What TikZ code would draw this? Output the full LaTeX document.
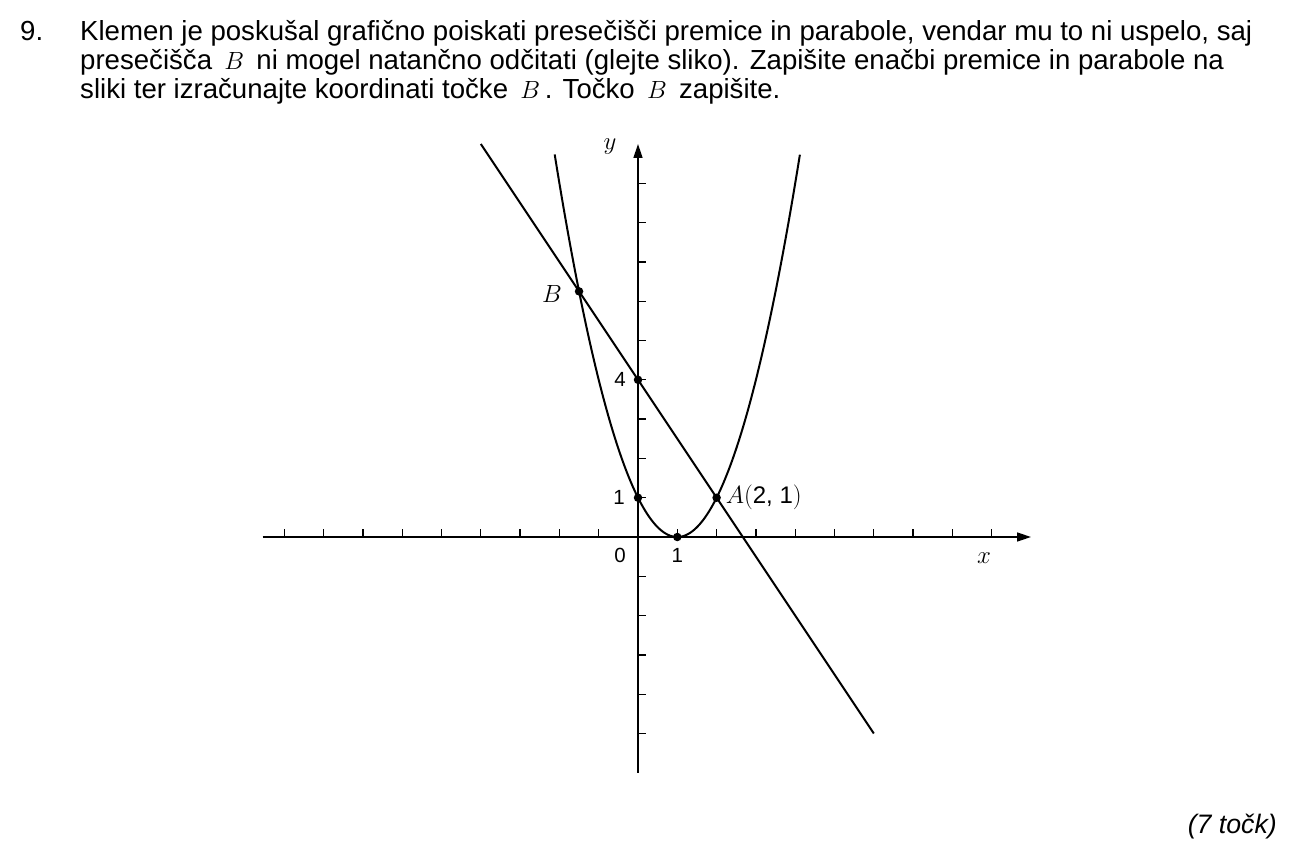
\documentclass[tikz,border=0pt]{standalone}
\usepackage{fontspec}
\setmainfont{Liberation Sans}
\usetikzlibrary{arrows.meta}
\begin{document}
\begin{tikzpicture}[x=1pt,y=-1pt,
  hdr/.style={anchor=base west, inner sep=0pt, font=\fontsize{27.6}{32}\selectfont},
  axis/.style={line width=1.5pt, -{Triangle[length=14pt,width=9pt]}},
  tick/.style={line width=1.3pt},
  curve/.style={line width=2pt},
  dot/.style={circle, fill=black, inner sep=0pt, minimum size=8.5pt},
  lbl/.style={inner sep=0pt, font=\fontsize{20.5}{24}\selectfont},
  mlbl/.style={inner sep=0pt, font=\fontsize{26}{30}\selectfont}]
\useasboundingbox (0,0) rectangle (1297,861);
\fill[white] (0,0) rectangle (1297,861);
% header
\node[hdr] (num) at (20,41) {9.};
\node[hdr] (l1) at (80,41) {Klemen je poskušal grafično poiskati presečišči premice in parabole, vendar mu to ni uspelo, saj};
\node[hdr] (l2) at (80,70) {presečišča \,$B$\, ni mogel natančno odčitati (glejte sliko). Zapišite enačbi premice in parabole na};
\node[hdr] (l3) at (80,99) {sliki ter izračunajte koordinati točke \,$B$\,. Točko \,$B$\, zapišite.};
\node[anchor=base east, inner sep=0pt, font=\fontsize{26.7}{30}\selectfont\itshape] (pts) at (1277,833) {(7 točk)};
% graph
\begin{scope}[shift={(638pt,-537pt)}, x=39.3pt, y=39.3pt]
  \coordinate (xl) at (-9.55,0);
  \coordinate (xr) at (10,0);
  \coordinate (yb) at (0,-6);
  \coordinate (yt) at (0,10);
  \draw[axis] (xl) -- (xr);
  \draw[axis] (yb) -- (yt);
  \foreach \i in {-9,...,-1,1,2,...,9} \draw[tick] (\i,0) -- ++(0,8pt);
  \foreach \j in {-5,...,-1,1,2,...,9} \draw[tick] (0,\j) -- ++(8pt,0);
  \draw[curve, domain=-2.12:4.12, samples=120, smooth] plot (\x, {(\x-1)^2});
  \coordinate (ls) at (-4,10);
  \coordinate (le) at (6,-5);
  \draw[curve] (ls) -- (le);
  \node[dot] (A) at (2,1) {};
  \node[dot] (B) at (-1.5,6.25) {};
  \node[dot] (P4) at (0,4) {};
  \node[dot] (P1) at (0,1) {};
  \node[dot] (V) at (1,0) {};
  \node[mlbl] (Bl) at ([shift={(-27pt,-3pt)}]B) {$B$};
  \node[lbl] (l4) at ([shift={(-18pt,0pt)}]P4) {4};
  \node[lbl] (l1a) at ([shift={(-19pt,0pt)}]P1) {1};
  \node[lbl] (l0) at ([shift={(-18pt,-18pt)}]0,0) {0};
  \node[lbl] (l1b) at ([shift={(0pt,-18pt)}]V) {1};
  \node[anchor=base west, inner sep=0pt, font=\fontsize{24}{28}\selectfont] (Al) at ([shift={(9pt,-6pt)}]A) {$A($2, 1$)$};
  \node[mlbl] (xlab) at ([shift={(346pt,-21pt)}]0,0) {$x$};
  \node[mlbl] (ylab) at ([shift={(-28pt,390pt)}]0,0) {$y$};
\end{scope}
\end{tikzpicture}
\end{document}
